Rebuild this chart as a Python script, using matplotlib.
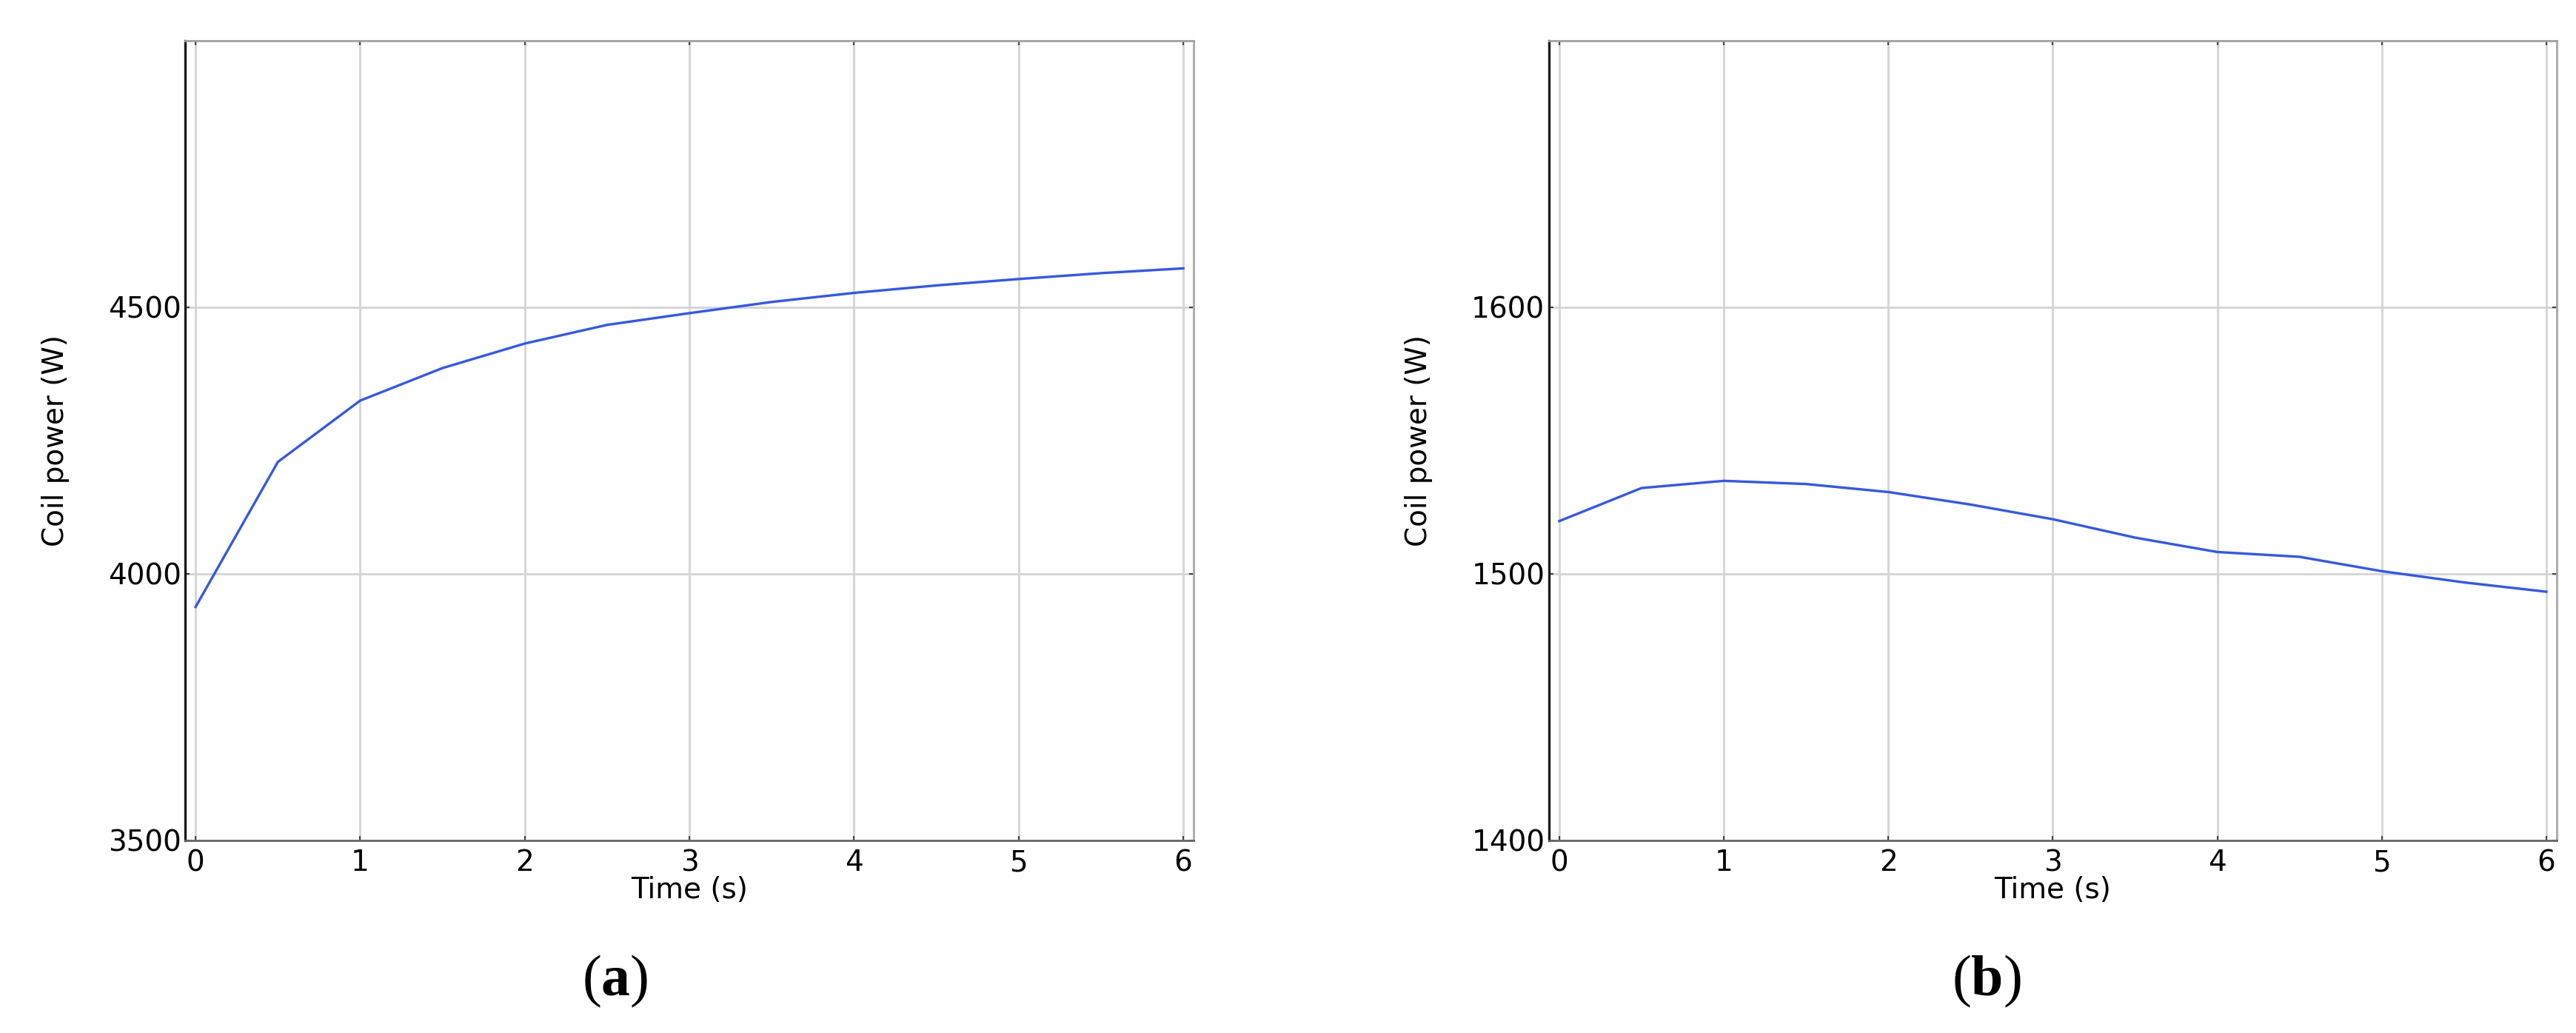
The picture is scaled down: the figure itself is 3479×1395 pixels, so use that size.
import matplotlib.pyplot as plt

# Data
time_s = [0, 0.5, 1, 1.5, 2, 2.5, 3, 3.5, 4, 4.5, 5, 5.5, 6]
power_a = [3938, 4210, 4325, 4386, 4432, 4467, 4489, 4510, 4527, 4541, 4553, 4564, 4573]
power_b = [1519.8, 1532.2, 1534.9, 1533.7, 1530.7, 1526.0, 1520.5, 1513.6, 1508.2, 1506.4, 1501.0, 1496.8, 1493.3]
yticks_a = [3500, 4000, 4500]
yticks_b = [1400, 1500, 1600]
xticks = [0, 1, 2, 3, 4, 5, 6]

plt.rcParams['font.family'] = 'DejaVu Sans'
plt.rcParams['mathtext.fontset'] = 'custom'
plt.rcParams['mathtext.rm'] = 'Liberation Serif'
plt.rcParams['mathtext.bf'] = 'Liberation Serif:bold'

fig = plt.figure(figsize=(34.79, 13.95), dpi=100)
ax_a = fig.add_axes([0.0719, 0.1864, 0.3915, 0.7742])
ax_b = fig.add_axes([0.6013, 0.1864, 0.3912, 0.7742])

panels = [
    (ax_a, power_a, yticks_a, (3500, 5000), '(' + r'$\mathbf{a}$' + ')', 0.2389),
    (ax_b, power_b, yticks_b, (1400, 1700), '(' + r'$\mathbf{b}$' + ')', 0.7712),
]

for ax, power, yticks, ylim, tag, tag_x in panels:
    ax.plot(time_s, power, color='#3157f2', linewidth=2.4, zorder=3)
    ax.set_xlim(-0.063, 6.063)
    ax.set_ylim(*ylim)
    ax.set_xticks(xticks)
    ax.set_yticks(yticks)
    ax.grid(True, color='#d4d4d4', linewidth=2)
    ax.tick_params(direction='in', length=4, width=1.5, color='#444444',
                   labelsize=28, top=True, right=True, pad=8)
    ax.tick_params(axis='y', pad=4)
    ax.spines['left'].set_color('#1a1a1a')
    ax.spines['left'].set_linewidth(2.4)
    ax.spines['bottom'].set_color('#666666')
    ax.spines['bottom'].set_linewidth(2)
    ax.spines['top'].set_color('#a0a0a0')
    ax.spines['top'].set_linewidth(2)
    ax.spines['right'].set_color('#a8a8a8')
    ax.spines['right'].set_linewidth(2)
    ax.set_xlabel('Time (s)', fontsize=28, labelpad=-1)
    ax.set_ylabel('Coil power (W)', fontsize=28)
    ax.yaxis.set_label_coords(-0.115, 0.5)
    fig.text(tag_x, 0.05, tag, fontsize=56, family='Liberation Serif',
             ha='center', va='center')

plt.savefig('out.png', dpi=100)
